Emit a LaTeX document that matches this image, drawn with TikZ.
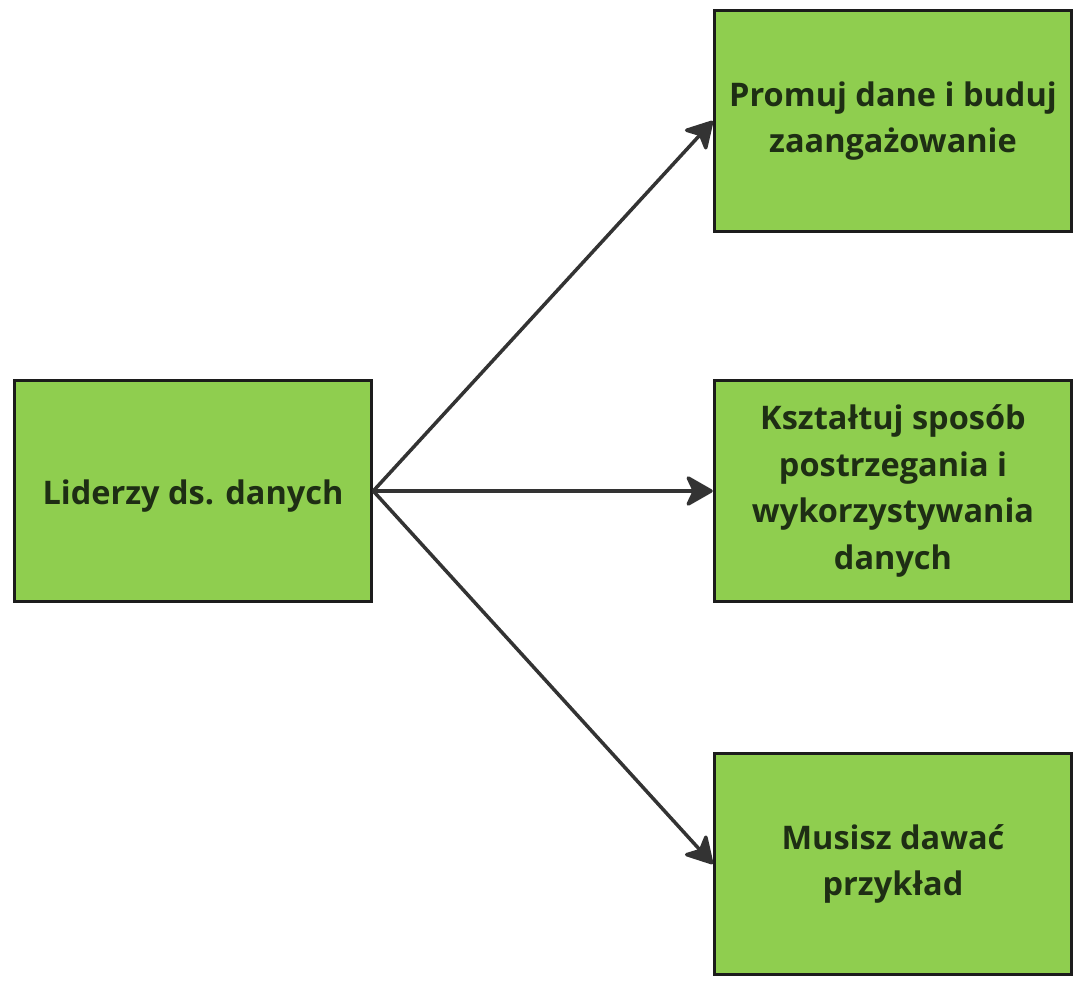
\documentclass[tikz,border=0pt]{standalone}
\usepackage{fontspec}
\setmainfont{Open Sans}
\usetikzlibrary{arrows.meta}
\definecolor{boxfill}{HTML}{8FCE4F}
\definecolor{boxline}{HTML}{1C1C1C}
\definecolor{boxtext}{HTML}{1E2E14}
\definecolor{arrowc}{HTML}{333333}
\tikzset{
  greenbox/.style={draw=boxline, line width=3.5pt, fill=boxfill, minimum width=357pt, minimum height=221pt,
    inner sep=0pt, align=center, text=boxtext, font=\bfseries\fontsize{32.5}{46.5}\selectfont,
    execute at begin node={\rule{0pt}{34pt}}},
  link/.style={draw=arrowc, line width=3.5pt, -{Stealth[length=30pt, width=34pt, inset=8pt, round]}}
}
\begin{document}
\begin{tikzpicture}[x=1pt,y=-1pt]
\useasboundingbox (0,0) rectangle (1087,992);
\node[greenbox] (L) at (193,491) {Liderzy ds. danych};
\node[greenbox] (A) at (893,121) {Promuj dane i buduj\\zaangażowanie};
\node[greenbox] (B) at (893,491) {Kształtuj sposób\\postrzegania i\\wykorzystywania\\danych};
\node[greenbox] (C) at (893,864) {Musisz dawać\\przykład};
\draw[link] (L.east) -- (A.west);
\draw[link] (L.east) -- (B.west);
\draw[link] (L.east) -- (C.west);
\end{tikzpicture}
\end{document}
